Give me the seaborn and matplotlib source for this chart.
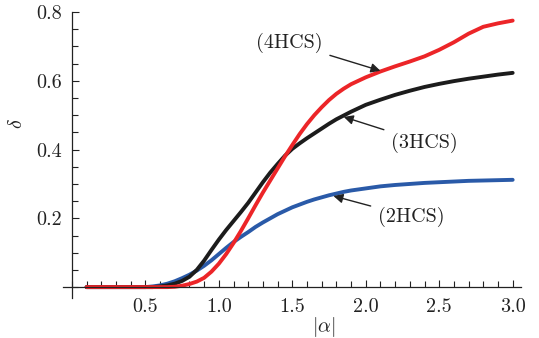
import numpy as np
import pandas as pd
import matplotlib
matplotlib.use("Agg")
import matplotlib.pyplot as plt
from matplotlib.ticker import MultipleLocator, FixedLocator
import seaborn as sns

# data
alpha = [0.1, 0.2, 0.3, 0.4, 0.5,
         0.55, 0.6, 0.65, 0.7, 0.75, 0.8, 0.85, 0.9, 0.95, 1.0,
         1.05, 1.1, 1.15, 1.2, 1.25, 1.3, 1.35, 1.4, 1.45, 1.5,
         1.55, 1.6, 1.65, 1.7, 1.75, 1.8, 1.85, 1.9, 1.95, 2.0,
         2.1, 2.2, 2.3, 2.4, 2.5, 2.6, 2.7, 2.8, 2.9, 3.0]

delta_2hcs = [0.0, 0.0, 0.0, 0.0, 0.0,
              0.002, 0.005, 0.01, 0.017, 0.026, 0.036, 0.048, 0.062, 0.078, 0.096,
              0.114, 0.131, 0.146, 0.16, 0.175, 0.188, 0.2, 0.212, 0.222, 0.232,
              0.24, 0.248, 0.255, 0.261, 0.267, 0.272, 0.277, 0.281, 0.284, 0.287,
              0.293, 0.297, 0.30, 0.303, 0.305, 0.307, 0.309, 0.31, 0.311, 0.312]

delta_3hcs = [0.0, 0.0, 0.0, 0.0, 0.0,
              0.0, 0.002, 0.005, 0.01, 0.018, 0.03, 0.05, 0.077, 0.108, 0.138,
              0.166, 0.192, 0.218, 0.245, 0.275, 0.305, 0.333, 0.358, 0.382, 0.402,
              0.418, 0.433, 0.447, 0.461, 0.475, 0.488, 0.499, 0.51, 0.52, 0.53,
              0.545, 0.559, 0.571, 0.582, 0.591, 0.599, 0.606, 0.612, 0.618, 0.623]

delta_4hcs = [0.0, 0.0, 0.0, 0.0, 0.0,
              0.0, 0.0, 0.0, 0.001, 0.004, 0.009, 0.016, 0.027, 0.045, 0.068,
              0.096, 0.128, 0.163, 0.2, 0.238, 0.275, 0.31, 0.345, 0.38, 0.413,
              0.445, 0.474, 0.5, 0.523, 0.544, 0.562, 0.577, 0.59, 0.6, 0.61,
              0.627, 0.642, 0.656, 0.671, 0.69, 0.712, 0.737, 0.757, 0.767, 0.775]

labels = ["(2HCS)", "(3HCS)", "(4HCS)"]
colors = ["#2a5aa8", "#1c1c1c", "#ec2528"]

df = pd.concat([
    pd.DataFrame({"alpha": alpha, "delta": delta_2hcs, "state": labels[0]}),
    pd.DataFrame({"alpha": alpha, "delta": delta_3hcs, "state": labels[1]}),
    pd.DataFrame({"alpha": alpha, "delta": delta_4hcs, "state": labels[2]}),
])

sns.set_style("ticks")
plt.rcParams["font.family"] = "cmr10"
plt.rcParams["mathtext.fontset"] = "cm"
plt.rcParams["axes.formatter.use_mathtext"] = True

fig = plt.figure(figsize=(5.39, 3.38), dpi=100)
ax = fig.add_axes([0.117, 0.118, 0.8505, 0.8465])

sns.lineplot(data=df, x="alpha", y="delta", hue="state",
             palette=dict(zip(labels, colors)), linewidth=2.8,
             legend=False, ax=ax)

ax.set_xlim(-0.06, 3.06)
ax.set_ylim(-0.032, 0.8)

# axes cross at the origin
ax.spines["left"].set_position(("data", 0))
ax.spines["bottom"].set_position(("data", 0))
ax.spines["top"].set_visible(False)
ax.spines["right"].set_visible(False)
for s in ["left", "bottom"]:
    ax.spines[s].set_linewidth(0.9)
    ax.spines[s].set_color("#222222")

ax.xaxis.set_major_locator(FixedLocator([0.5, 1.0, 1.5, 2.0, 2.5, 3.0]))
ax.xaxis.set_minor_locator(MultipleLocator(0.1))
ax.yaxis.set_major_locator(FixedLocator([0.2, 0.4, 0.6, 0.8]))
ax.yaxis.set_minor_locator(MultipleLocator(0.05))
ax.set_xticklabels(["0.5", "1.0", "1.5", "2.0", "2.5", "3.0"])
ax.set_yticklabels(["0.2", "0.4", "0.6", "0.8"])
ax.tick_params(which="both", direction="in", color="#222222", width=0.8,
               labelsize=14.5, labelcolor="#222222")
ax.tick_params(which="major", length=5)
ax.tick_params(which="minor", length=4)
ax.tick_params(axis="x", pad=8)
ax.tick_params(axis="y", pad=7)

ax.set_xlabel(r"$|\alpha|$", fontsize=14.5, color="#222222")
ax.set_ylabel(r"$\delta$", fontsize=14.5, color="#222222")
ax.xaxis.set_label_coords(0.569, -0.058)
ax.yaxis.set_label_coords(-0.08, 0.612)

arrow = dict(arrowstyle="-|>", color="#222222", lw=1.0,
             mutation_scale=14, shrinkA=3, shrinkB=0)
ax.annotate("(4HCS)", xy=(2.1, 0.629), xytext=(1.48, 0.71),
            ha="center", va="center", fontsize=14.5, color="#222222",
            arrowprops=arrow)
ax.annotate("(3HCS)", xy=(1.85, 0.495), xytext=(2.40, 0.42),
            ha="center", va="center", fontsize=14.5, color="#222222",
            arrowprops=arrow)
ax.annotate("(2HCS)", xy=(1.78, 0.265), xytext=(2.31, 0.204),
            ha="center", va="center", fontsize=14.5, color="#222222",
            arrowprops=arrow)

fig.savefig("out.png", dpi=100)
